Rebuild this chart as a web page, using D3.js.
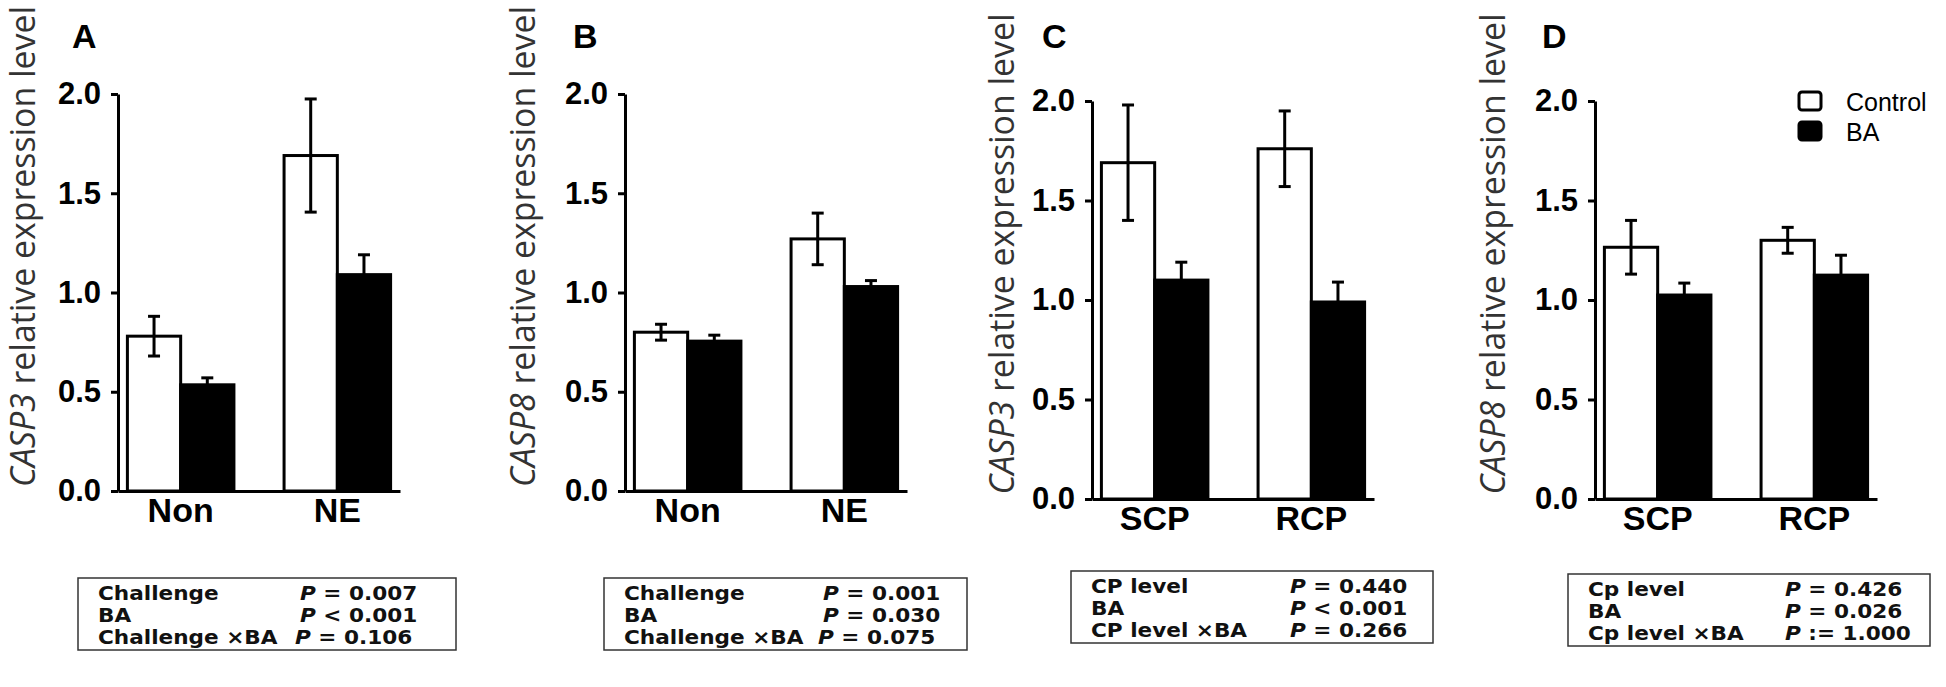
<!DOCTYPE html>
<html>
<head>
<meta charset="utf-8">
<script src="https://cdn.jsdelivr.net/npm/d3@7"></script>
<style>
  html, body { margin: 0; padding: 0; background: #fff; }
  svg { display: block; }
</style>
</head>
<body>
<svg id="chart" width="1946" height="687"></svg>
<script>
// ---------------- DATA ----------------
const panelLetters = ["A", "B", "C", "D"];
const geneNames = ["CASP3", "CASP8", "CASP3", "CASP8"];
const yTitleRest = " relative expression level";
const panelCategories = [["Non", "NE"], ["Non", "NE"], ["SCP", "RCP"], ["SCP", "RCP"]];
const seriesNames = ["Control", "BA"];
const yTickValues = [0.0, 0.5, 1.0, 1.5, 2.0];

const controlMeans = [[0.78, 1.69], [0.80, 1.27], [1.69, 1.76], [1.265, 1.30]];
const controlErrors = [[0.10, 0.285], [0.04, 0.13], [0.29, 0.19], [0.135, 0.065]];
const baMeans = [[0.535, 1.09], [0.755, 1.03], [1.10, 0.99], [1.025, 1.125]];
const baErrors = [[0.035, 0.10], [0.03, 0.03], [0.09, 0.10], [0.06, 0.10]];

const statLabels = [
  ["Challenge", "BA", "Challenge \u00D7BA"],
  ["Challenge", "BA", "Challenge \u00D7BA"],
  ["CP level", "BA", "CP level \u00D7BA"],
  ["Cp level", "BA", "Cp level \u00D7BA"]
];
const statPValues = [
  ["= 0.007", "< 0.001", "= 0.106"],
  ["= 0.001", "= 0.030", "=  0.075"],
  ["= 0.440", "< 0.001", "= 0.266"],
  ["= 0.426", "= 0.026", ":= 1.000"]
];

// ---------------- LAYOUT ----------------
const axisX = [118, 625, 1092, 1595];
const plotW = 282;
const yZero = [491, 491, 499, 499];
const yTop = [94, 94, 101, 101];
const titleBaseX = [35, 535, 1014, 1505];
const letterX = [72, 573, 1042, 1542];
const boxes = [
  {x: 78, y: 578, w: 378, h: 72, pcol: [222, 222, 217]},
  {x: 604, y: 578, w: 363, h: 72, pcol: [219, 219, 214]},
  {x: 1071, y: 571, w: 362, h: 72, pcol: [219, 219, 219]},
  {x: 1568, y: 574, w: 362, h: 72, pcol: [217, 217, 217]}
];

const svg = d3.select("#chart");
const BOLD = "'Liberation Sans', Arial, Helvetica, sans-serif";

panelLetters.forEach((letter, i) => {
  const g = svg.append("g");
  const x0 = axisX[i];
  const cats = panelCategories[i];

  const y = d3.scaleLinear().domain([0, 2]).range([yZero[i], yTop[i]]);
  const x = d3.scaleBand().domain(cats).range([x0, x0 + plotW])
    .paddingInner(0.32).paddingOuter(0.06);
  const xs = d3.scaleBand().domain(seriesNames).range([0, x.bandwidth()]).padding(0);

  const rows = cats.map((c, j) => [
    {cat: c, s: "Control", v: controlMeans[i][j], e: controlErrors[i][j]},
    {cat: c, s: "BA", v: baMeans[i][j], e: baErrors[i][j]}
  ]).flat();

  // bars
  g.selectAll("rect.bar").data(rows).join("rect")
    .attr("class", "bar")
    .attr("x", d => x(d.cat) + xs(d.s))
    .attr("y", d => y(d.v))
    .attr("width", xs.bandwidth())
    .attr("height", d => y(0) - y(d.v))
    .attr("fill", d => d.s === "Control" ? "#fff" : "#000")
    .attr("stroke", "#000")
    .attr("stroke-width", 3);

  // error bars
  const cap = 6;
  const cx = d => x(d.cat) + xs(d.s) + xs.bandwidth() / 2;
  const eb = g.selectAll("g.err").data(rows).join("g").attr("class", "err")
    .attr("stroke", "#000").attr("stroke-width", 3);
  eb.append("line")
    .attr("x1", cx).attr("x2", cx)
    .attr("y1", d => y(d.v - d.e)).attr("y2", d => y(d.v + d.e));
  eb.append("line")
    .attr("x1", d => cx(d) - cap).attr("x2", d => cx(d) + cap)
    .attr("y1", d => y(d.v + d.e)).attr("y2", d => y(d.v + d.e));
  eb.append("line")
    .attr("x1", d => cx(d) - cap).attr("x2", d => cx(d) + cap)
    .attr("y1", d => y(d.v - d.e)).attr("y2", d => y(d.v - d.e));

  // y axis
  const ya = g.append("g").attr("transform", `translate(${x0},0)`)
    .call(d3.axisLeft(y).tickValues(yTickValues).tickFormat(d3.format(".1f"))
      .tickSize(7).tickSizeOuter(0).tickPadding(10));
  ya.select(".domain").attr("stroke-width", 3).attr("stroke", "#000");
  ya.selectAll(".tick line").attr("stroke-width", 3).attr("stroke", "#000");
  ya.selectAll(".tick text").attr("font-family", BOLD).attr("font-weight", "bold")
    .attr("font-size", 31).attr("fill", "#000");

  // x axis
  const xa = g.append("g").attr("transform", `translate(0,${yZero[i]})`)
    .call(d3.axisBottom(x).tickSize(0).tickSizeOuter(0).tickPadding(7));
  xa.select(".domain").attr("stroke-width", 3).attr("stroke", "#000");
  xa.selectAll(".tick text").attr("font-family", BOLD).attr("font-weight", "bold")
    .attr("font-size", 34).attr("fill", "#000");

  // panel letter
  g.append("text").attr("x", letterX[i]).attr("y", 48)
    .attr("font-family", BOLD).attr("font-weight", "bold").attr("font-size", 34)
    .text(letter);

  // y title
  const cy = (yZero[i] + yTop[i]) / 2 - 46;
  const t = g.append("text")
    .attr("transform", `translate(${titleBaseX[i]},${cy}) rotate(-90)`)
    .attr("text-anchor", "middle")
    .attr("font-family", "'Open Sans', 'Noto Sans', sans-serif")
    .attr("font-size", 34).attr("fill", "#333")
    .attr("textLength", 481).attr("lengthAdjust", "spacingAndGlyphs");
  t.append("tspan").attr("font-style", "italic").text(geneNames[i]);
  t.append("tspan").text(yTitleRest);

  // stats box
  const b = boxes[i];
  g.append("rect").attr("x", b.x).attr("y", b.y).attr("width", b.w).attr("height", b.h)
    .attr("fill", "none").attr("stroke", "#333").attr("stroke-width", 1.5);
  statLabels[i].forEach((lab, r) => {
    const by = b.y + 22 + r * 22;
    g.append("text")
      .attr("transform", `translate(${b.x + 20},${by}) scale(1.08,1)`)
      .attr("font-family", "'DejaVu Sans', Verdana, sans-serif").attr("font-weight", "bold")
      .attr("font-size", 20).attr("fill", "#111").text(lab);
    const pt = g.append("text")
      .attr("transform", `translate(${b.x + b.pcol[r]},${by}) scale(1.08,1)`)
      .attr("font-family", "'DejaVu Sans', Verdana, sans-serif").attr("font-weight", "bold")
      .attr("font-size", 20).attr("fill", "#111");
    pt.append("tspan").attr("font-style", "italic").text("P");
    pt.append("tspan").text(" " + statPValues[i][r]);
  });
});

// legend (panel D)
const legend = svg.append("g");
seriesNames.forEach((s, k) => {
  const ly = 92 + k * 30;
  legend.append("rect").attr("x", 1799).attr("y", ly).attr("width", 22).attr("height", 18)
    .attr("rx", 3).attr("fill", s === "Control" ? "#fff" : "#000")
    .attr("stroke", "#000").attr("stroke-width", 3);
  legend.append("text").attr("x", 1846).attr("y", ly + 19)
    .attr("font-family", BOLD).attr("font-size", 25).attr("fill", "#000").text(s);
});
</script>
</body>
</html>
